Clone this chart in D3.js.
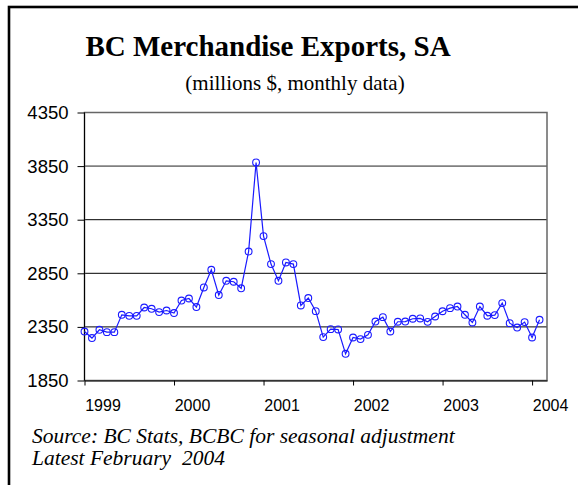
<!DOCTYPE html>
<html>
<head>
<meta charset="utf-8">
<script src="https://cdn.jsdelivr.net/npm/d3@7"></script>
<style>
  body { margin: 0; background: #fff; }
  .axis text { font-family: "Liberation Sans", Arial, sans-serif; font-size: 16px; fill: #000; }
  .axis path, .axis line { stroke: #000; }
</style>
</head>
<body>
<div id="chart"></div>
<script>
// monthly exports, Jan 1999 .. Feb 2004 (millions $, SA)
var exportsSA = [
  2307, 2246, 2323, 2301, 2301, 2463, 2453, 2453, 2531, 2519, 2488, 2503,
  2479, 2596, 2615, 2535, 2718, 2883, 2647, 2780, 2771, 2710, 3053, 3884,
  3197, 2936, 2780, 2951, 2936, 2550, 2619, 2497, 2255, 2329, 2326, 2099,
  2251, 2236, 2276, 2400, 2441, 2307, 2398, 2400, 2426, 2429, 2397, 2447,
  2496, 2525, 2540, 2463, 2391, 2540, 2454, 2460, 2572, 2385, 2344, 2395,
  2251, 2416
];
var years = ['1999', '2000', '2001', '2002', '2003', '2004'];
var yTicks = [1850, 2350, 2850, 3350, 3850, 4350];

var W = 578, H = 485;
var plot = {left: 84.5, right: 547, top: 112.5, bottom: 380.5};

var svg = d3.select('#chart')
  .append('svg')
    .attr('width', W)
    .attr('height', H);

// outer frame (runs off the right and bottom edges)
svg.append('rect')
  .attr('x', 9).attr('y', 7)
  .attr('width', 700).attr('height', 700)
  .attr('fill', 'none')
  .attr('stroke', '#000')
  .attr('stroke-width', 2.6);

var x = d3.scaleLinear()
  .domain([0, 62])
  .range([plot.left, plot.right]);

var y = d3.scaleLinear()
  .domain([1850, 4350])
  .range([plot.bottom, plot.top]);

// gridlines
svg.append('g')
  .selectAll('line')
  .data(yTicks.slice(1, -1))
  .enter().append('line')
    .attr('x1', plot.left).attr('x2', plot.right)
    .attr('y1', function(d) { return y(d); })
    .attr('y2', function(d) { return y(d); })
    .attr('stroke', function(d) { return d == 3850 ? '#808080' : '#000'; })
    .attr('stroke-width', function(d) { return d == 3850 ? 1.8 : 1; });

// plot border
svg.append('rect')
  .attr('x', plot.left).attr('y', plot.top)
  .attr('width', plot.right - plot.left)
  .attr('height', plot.bottom - plot.top)
  .attr('fill', 'none')
  .attr('stroke', '#666')
  .attr('stroke-width', 1.5);

var yAxis = svg.append('g')
  .attr('class', 'axis')
  .attr('transform', 'translate(' + plot.left + ',0)')
  .call(d3.axisLeft(y)
    .tickValues(yTicks)
    .tickSize(7)
    .tickPadding(9)
    .tickFormat(d3.format('d')))
  .call(function(g) { g.select('.domain').attr('d', 'M0,' + plot.top + 'V' + plot.bottom); });
yAxis.selectAll('text').style('font-size', '18.5px');

var xAxis = svg.append('g')
  .attr('class', 'axis')
  .attr('transform', 'translate(0,' + plot.bottom + ')')
  .call(d3.axisBottom(x)
    .tickValues(years.map(function(d, i) { return i * 12; }))
    .tickSize(5)
    .tickSizeOuter(0)
    .tickPadding(14)
    .tickFormat(function(d, i) { return years[i]; }));
xAxis.selectAll('text').attr('dx', 18);

var line = d3.line()
  .x(function(d, i) { return x(i); })
  .y(function(d) { return y(d); });

svg.append('path')
  .datum(exportsSA)
  .attr('d', line)
  .attr('fill', 'none')
  .attr('stroke', '#1a1aff')
  .attr('stroke-width', 1.2);

svg.selectAll('circle.pt')
  .data(exportsSA)
  .enter().append('circle')
    .attr('class', 'pt')
    .attr('cx', function(d, i) { return x(i); })
    .attr('cy', function(d) { return y(d); })
    .attr('r', 3.4)
    .attr('fill', 'none')
    .attr('stroke', '#1a1aff')
    .attr('stroke-width', 1.1);

svg.append('text')
  .attr('x', 268).attr('y', 56)
  .attr('text-anchor', 'middle')
  .style('font-family', '"Liberation Serif", "Times New Roman", serif')
  .style('font-weight', 'bold')
  .style('font-size', '29px')
  .text('BC Merchandise Exports, SA');

svg.append('text')
  .attr('x', 295).attr('y', 90)
  .attr('text-anchor', 'middle')
  .style('font-family', '"Liberation Serif", "Times New Roman", serif')
  .style('font-size', '21px')
  .text('(millions $, monthly data)');

var notes = ['Source: BC Stats, BCBC for seasonal adjustment', 'Latest February\u00a0 2004'];
svg.selectAll('text.note')
  .data(notes)
  .enter().append('text')
    .attr('class', 'note')
    .attr('x', 32)
    .attr('y', function(d, i) { return 443 + i * 22; })
    .style('font-family', '"Liberation Serif", "Times New Roman", serif')
    .style('font-style', 'italic')
    .style('font-size', '21.5px')
    .text(function(d) { return d; });
</script>
</body>
</html>
